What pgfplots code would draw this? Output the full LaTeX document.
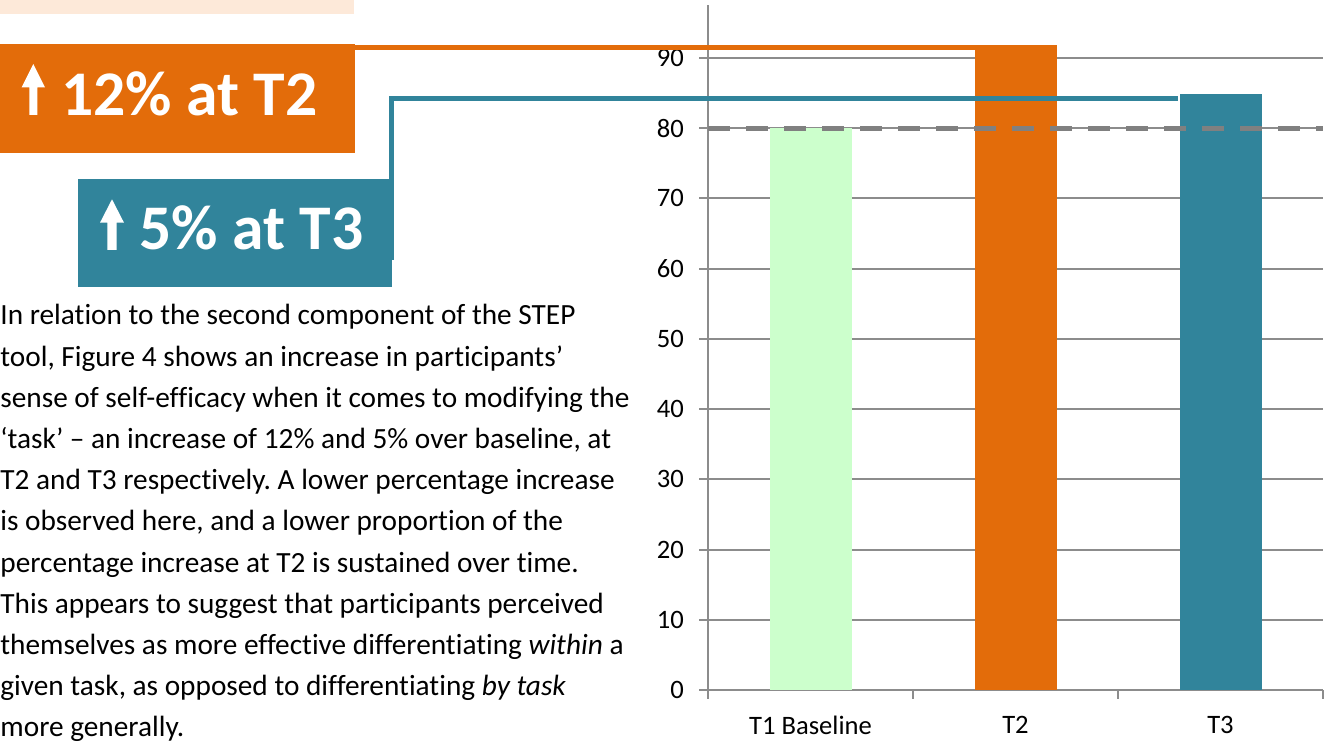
\documentclass[border=0pt]{standalone}
\usepackage{fontspec}
\setmainfont{Carlito}[Ligatures=CommonOff]
\usepackage{pgfplots}
\pgfplotsset{compat=1.18}
\definecolor{taskorange}{HTML}{E36C0A}
\definecolor{taskteal}{HTML}{31849B}
\definecolor{basegreen}{HTML}{CCFFCC}
\definecolor{peach}{HTML}{FDE9D9}
\definecolor{gridgray}{HTML}{8C8C8C}
\definecolor{dashgray}{HTML}{808080}
\frenchspacing

\begin{document}
\begin{tikzpicture}
\path[use as bounding box] (0,0) rectangle (663.5pt,371pt);

\begin{axis}[
    at={(354pt,26pt)}, anchor=south west,
    scale only axis, width=307.5pt, height=342.5pt,
    xmin=-0.5, xmax=2.5, ymin=0, ymax=97.55,
    axis lines=left,
    axis line style={-, draw=gridgray, line width=1pt},
    ytick={0,10,...,90},
    ymajorgrids,
    major grid style={draw=gridgray, line width=1pt},
    tick align=outside, major tick length=4.5pt,
    tick style={draw=gridgray, line width=1pt},
    xtick={-0.5,0.5,1.5,2.5}, xticklabels={},
    extra x ticks={0,1,2},
    extra x tick labels={T1 Baseline,T2,T3},
    extra x tick style={major tick length=0pt, xticklabel style={yshift=-9.5pt}},
    ticklabel style={font=\fontsize{13.3pt}{16pt}\selectfont, text=black},
    yticklabel style={xshift=-4pt},
    /pgf/number format/assume math mode=true,
    clip=false,
]

% bars
\addplot[ybar, bar width=41pt, bar shift=0pt, fill=basegreen, draw=none] coordinates {(0,80.0)};
\addplot[ybar, bar width=41pt, bar shift=0pt, fill=taskorange, draw=none] coordinates {(1,91.9)};
\addplot[ybar, bar width=41pt, bar shift=0pt, fill=taskteal, draw=none] coordinates {(2,84.9)};

% baseline reference
\addplot[sharp plot, dashgray, line width=2.6pt, dash pattern=on 11pt off 8pt] coordinates {(-0.5,80) (2.5,80)};

\end{axis}

% callouts, in pixel-like units from the top left corner
\begin{scope}[x=0.5pt, y=-0.5pt, yshift=371pt]
\fill[peach] (0,0) rectangle (354,14.5);
\fill[taskorange] (0,44) rectangle (355,153);
\fill[taskteal] (78,179) rectangle (392,287);
\draw[taskorange, line width=2.5pt] (355,47.5) -- (975,47.5);
\draw[taskteal, line width=2.5pt] (391.7,260) -- (391.7,98.5) -- (1178,98.5);

\fill[white] (21.7,87.3) -- (33.3,64) -- (45,87.3) -- (37.3,87.3) -- (37.3,115) -- (29.3,115) -- (29.3,87.3) -- cycle;
\fill[white] (100,222.7) -- (112,199.3) -- (124,222.7) -- (116.7,222.7) -- (116.7,250) -- (107.3,250) -- (107.3,222.7) -- cycle;

\node[anchor=base west, inner sep=0pt, text=white, font=\fontsize{31.8pt}{36pt}\selectfont\bfseries] at (61,116) {12\% at T2};
\node[anchor=base west, inner sep=0pt, text=white, font=\fontsize{31.8pt}{36pt}\selectfont\bfseries] at (139,250) {5\% at T3};

\begin{scope}[every node/.style={anchor=base west, inner sep=0pt, font=\fontsize{14.65pt}{20.6pt}\selectfont}]
\node at (0,325.0) {In relation to the second component of the STEP};
\node at (0,366.2) {tool, Figure 4 shows an increase in participants’};
\node at (0,407.4) {sense of self-efficacy when it comes to modifying the};
\node at (0,448.6) {‘task’ – an increase of 12\% and 5\% over baseline, at};
\node at (0,489.8) {T2 and T3 respectively. A lower percentage increase};
\node at (0,531.0) {is observed here, and a lower proportion of the};
\node at (0,572.2) {percentage increase at T2 is sustained over time.};
\node at (0,613.4) {This appears to suggest that participants perceived};
\node at (0,654.6) {themselves as more effective differentiating \emph{within} a};
\node at (0,695.8) {given task, as opposed to differentiating \emph{by task}};
\node at (0,737.0) {more generally.};
\end{scope}
\end{scope}
\end{tikzpicture}
\end{document}
